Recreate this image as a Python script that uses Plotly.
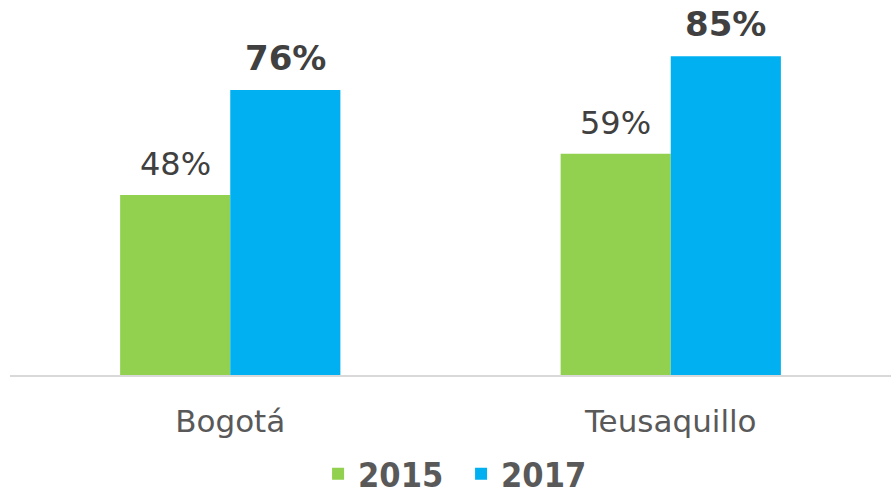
import plotly.graph_objects as go

categories = ["Bogotá", "Teusaquillo"]
years = ["2015", "2017"]
values_2015 = [48, 59]
values_2017 = [76, 85]
colors = ["#92D050", "#00B0F0"]

W, H = 891, 494
margin_l, margin_r, margin_t, margin_b = 10, 0, 0, 119
bargap = 0.5

fig = go.Figure()
for name, vals, col in zip(years, [values_2015, values_2017], colors):
    fig.add_trace(go.Bar(x=categories, y=vals, name=name, marker_color=col,
                         marker_line_width=0))

plot_w = W - margin_l - margin_r
bar_w = plot_w / len(categories) * (1 - bargap) / 2
annotations = []
for i, (vals, bold) in enumerate([(values_2015, False), (values_2017, True)]):
    shift = (i - 0.5) * bar_w
    for c, v in zip(categories, vals):
        txt = f"<b>{v}%</b>" if bold else f"{v}%"
        annotations.append(dict(x=c, y=v, xref="x", yref="y", text=txt,
                                showarrow=False, xshift=shift, yshift=10,
                                yanchor="bottom",
                                font=dict(family="DejaVu Sans", size=34 if bold else 32,
                                          color="#404040")))

fig.update_layout(
    width=W, height=H,
    margin=dict(l=margin_l, r=margin_r, t=margin_t, b=margin_b, autoexpand=False),
    paper_bgcolor="white", plot_bgcolor="white",
    barmode="group", bargap=bargap, bargroupgap=0,
    showlegend=True,
    legend=dict(orientation="h", x=0.512, xanchor="center", yref="container",
                y=0.04, yanchor="middle", entrywidth=98,
                font=dict(family="DejaVu Sans Condensed, DejaVu Sans", size=34,
                          color="#595959", weight="bold"),
                traceorder="normal"),
    annotations=annotations,
)
fig.update_xaxes(showline=True, linecolor="#D9D9D9", linewidth=2, ticks="",
                 tickfont=dict(family="DejaVu Sans", size=31, color="#595959"),
                 ticklabelstandoff=18, showgrid=False, automargin=False)
fig.update_yaxes(range=[0, 100], visible=False, showgrid=False, zeroline=False)
fig.write_html("out.html", post_script="document.body.style.margin='0';",
               config={"displayModeBar": False})
